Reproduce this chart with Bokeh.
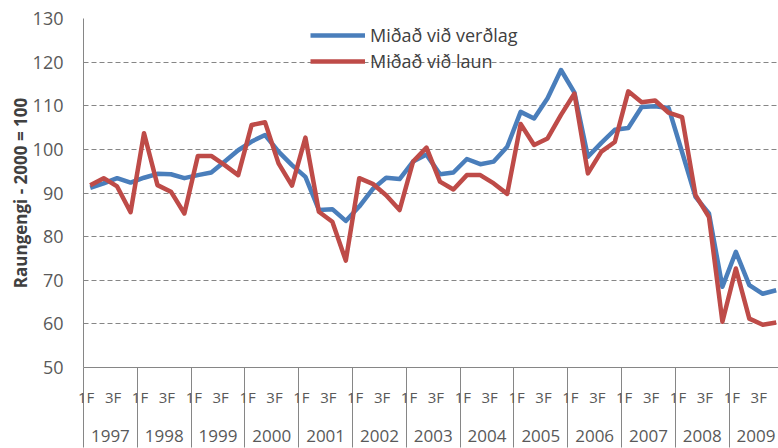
from bokeh.plotting import figure
from bokeh.models import Range1d, FixedTicker, LinearAxis, Legend, LegendItem
from bokeh.embed import file_html
from bokeh.resources import INLINE

years = ["1997", "1998", "1999", "2000", "2001", "2002", "2003",
         "2004", "2005", "2006", "2007", "2008", "2009"]
quarters = ["1F", "2F", "3F", "4F"]
shown_quarters = ["1F", "3F"]
y_ticks = [50, 60, 70, 80, 90, 100, 110, 120, 130]

verdlag = [91.2, 92.2, 93.4, 92.4, 93.5, 94.4, 94.3, 93.4, 94.1, 94.7, 97.2, 99.8,
           101.8, 103.3, 99.5, 96.4, 93.7, 86.1, 86.3, 83.6, 86.9, 90.9, 93.5, 93.2,
           97.2, 98.8, 94.3, 94.7, 97.8, 96.6, 97.2, 100.6, 108.6, 107.1, 111.7, 118.2,
           113.0, 98.3, 101.5, 104.5, 104.9, 109.7, 109.9, 109.5, 99.4, 89.1, 85.3, 68.5,
           76.5, 68.9, 66.9, 67.7]
laun = [91.8, 93.4, 91.5, 85.6, 103.7, 91.8, 90.3, 85.3, 98.5, 98.5, 96.4, 94.1,
        105.6, 106.2, 96.8, 91.7, 102.7, 85.7, 83.4, 74.5, 93.4, 92.1, 89.5, 86.1,
        97.2, 100.4, 92.6, 90.8, 94.1, 94.1, 92.2, 89.8, 105.8, 101.0, 102.5, 107.9,
        112.8, 94.5, 99.5, 101.7, 113.3, 110.8, 111.2, 108.4, 107.4, 89.5, 84.5, 60.5,
        72.7, 61.2, 59.8, 60.3]

FONT = "Open Sans"
GREY = "#868686"
TXT = "#595959"

n = len(verdlag)
xs = [i + 0.5 for i in range(n)]

p = figure(width=778, height=448, output_backend="svg", toolbar_location=None,
           x_range=Range1d(0, 51.67), y_range=Range1d(50, 130),
           min_border_left=83, min_border_right=0, min_border_top=18,
           min_border_bottom=81, x_axis_location=None)
p.outline_line_color = None
p.background_fill_color = "white"
p.border_fill_color = "white"

# y axis
p.yaxis.ticker = FixedTicker(ticks=y_ticks)
p.yaxis.axis_line_color = GREY
p.yaxis.major_tick_out = 0
p.yaxis.major_tick_in = 0
p.yaxis.minor_tick_line_color = None
p.yaxis.major_label_text_font = FONT
p.yaxis.major_label_text_font_size = "18px"
p.yaxis.major_label_text_color = TXT
p.yaxis.major_label_standoff = 20
p.yaxis.axis_label = "Raungengi - 2000 = 100"
p.yaxis.axis_label_text_font = FONT
p.yaxis.axis_label_text_font_size = "17px"
p.yaxis.axis_label_text_font_style = "bold"
p.yaxis.axis_label_text_color = "#404040"
p.yaxis.axis_label_standoff = -2

p.ygrid.grid_line_color = GREY
p.ygrid.grid_line_dash = "5 3"
p.ygrid.grid_line_width = 1
p.xgrid.visible = False

# x axis: quarter labels + year separators (minor ticks)
q_ticks = []
q_over = {}
for i in range(n):
    q = quarters[i % 4]
    if q in shown_quarters:
        t = i + 0.2
        q_ticks.append(t)
        q_over[t] = q
boundaries = [4 * k for k in range(len(years) + 1)]
ax1 = LinearAxis(ticker=FixedTicker(ticks=q_ticks, minor_ticks=boundaries),
                 major_label_overrides=q_over,
                 major_tick_out=0, major_tick_in=0,
                 minor_tick_in=0, minor_tick_out=80,
                 minor_tick_line_color=GREY, minor_tick_line_width=1,
                 axis_line_color=GREY,
                 major_label_text_font=FONT, major_label_text_font_size="15px",
                 major_label_text_color=TXT, major_label_standoff=-61)
p.add_layout(ax1, "below")

y_centers = [4 * k + 2 for k in range(len(years))]
y_over = {c: yr for c, yr in zip(y_centers, years)}
ax2 = LinearAxis(ticker=FixedTicker(ticks=y_centers, minor_ticks=[]),
                 major_label_overrides=y_over,
                 major_tick_out=0, major_tick_in=0,
                 major_tick_line_color=None, minor_tick_line_color=None,
                 axis_line_color=None,
                 major_label_text_font=FONT, major_label_text_font_size="17px",
                 major_label_text_color=TXT, major_label_standoff=20)
p.add_layout(ax2, "below")

r1 = p.line(xs, verdlag, line_color="#4A7EBB", line_width=4.5, line_join="round")
r2 = p.line(xs, laun, line_color="#BE4B48", line_width=4.5, line_join="round")

legend = Legend(items=[LegendItem(label="Miðað við verðlag", renderers=[r1]),
                       LegendItem(label="Miðað við laun", renderers=[r2])],
                location=(227, 294), padding=0, margin=0, spacing=2,
                glyph_width=55, glyph_height=24, label_height=24, label_standoff=5,
                label_text_font=FONT, label_text_font_size="18px",
                label_text_color="#404040",
                background_fill_alpha=0, border_line_color=None)
p.add_layout(legend)

open("out.html", "w").write(file_html(p, INLINE))
